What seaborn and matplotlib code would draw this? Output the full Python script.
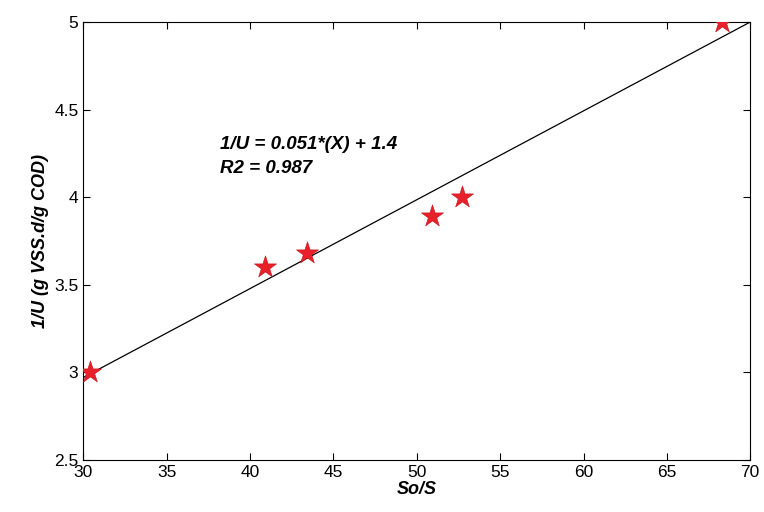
import numpy as np
import matplotlib
matplotlib.use('Agg')
import matplotlib.pyplot as plt
import seaborn as sns

so_s = [30.4, 40.9, 43.4, 50.9, 52.7, 68.3]
inv_u = [3.0, 3.6, 3.68, 3.89, 4.0, 5.0]
line_x = [30, 70]
line_y = [2.97, 5.0]

sns.set_style('ticks')
plt.rcParams['font.family'] = ['Liberation Sans', 'DejaVu Sans']
plt.rcParams['text.color'] = 'black'

fig = plt.figure(figsize=(7.64, 5.12), dpi=100)
ax = fig.add_axes([0.109, 0.102, 0.873, 0.855])

sns.lineplot(x=line_x, y=line_y, color='black', linewidth=0.9, ax=ax)
sns.scatterplot(x=so_s, y=inv_u, marker='*', s=280, color='#e8202a',
                edgecolor='#c01018', linewidth=0.4, zorder=3, ax=ax)

ax.set_xlim(30, 70)
ax.set_ylim(2.5, 5)
ax.set_xticks(np.arange(30, 71, 5))
ax.set_yticks(np.arange(2.5, 5.01, 0.5))
ax.set_yticklabels(['2.5', '3', '3.5', '4', '4.5', '5'])
ax.tick_params(direction='in', labelsize=12.5, top=True, right=True, length=5,
               colors='black')
for s in ax.spines.values():
    s.set_visible(True)
    s.set_linewidth(0.8)
    s.set_color('black')

ax.set_xlabel('So/S', fontsize=13, fontweight='bold', style='italic',
              labelpad=1, color='black')
ax.set_ylabel('1/U (g VSS.d/g COD)', fontsize=13, fontweight='bold',
              style='italic', color='black')
ax.text(38.2, 4.23, '1/U = 0.051*(X) + 1.4\nR2 = 0.987', fontsize=13.5,
        fontweight='bold', style='italic', va='center', linespacing=1.55,
        color='black')

fig.savefig('out.png', dpi=100)
